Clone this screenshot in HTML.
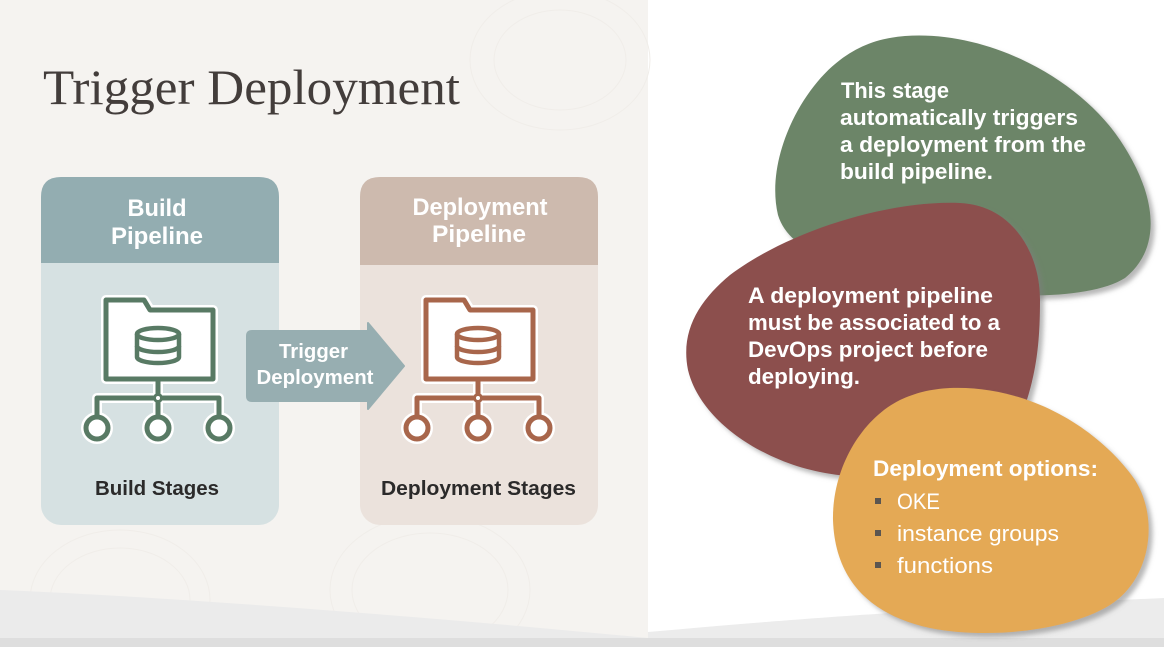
<!DOCTYPE html>
<html>
<head>
<meta charset="utf-8">
<style>
  html,body{margin:0;padding:0;background:#fff;}
  svg{display:block;}
  .b{font-family:"Liberation Sans",Arial,sans-serif;font-weight:bold;}
  .r{font-family:"Liberation Sans",Arial,sans-serif;font-weight:normal;}
  .s{font-family:"Liberation Serif","Times New Roman",serif;}
</style>
</head>
<body>
<svg width="1164" height="647" viewBox="0 0 1164 647" xmlns="http://www.w3.org/2000/svg">
  <defs>
    <filter id="sh" x="-10%" y="-10%" width="130%" height="130%">
      <feDropShadow dx="4" dy="4" stdDeviation="2.5" flood-color="#7d7d7d" flood-opacity="0.55"/>
    </filter>
  </defs>

  <!-- backgrounds -->
  <rect x="0" y="0" width="1164" height="647" fill="#ffffff"/>
  <rect x="0" y="0" width="648" height="647" fill="#f5f3f0"/>
  <g fill="none" stroke="#f0ede9" stroke-width="1">
    <ellipse cx="120" cy="600" rx="90" ry="70"/>
    <ellipse cx="120" cy="600" rx="70" ry="52"/>
    <ellipse cx="430" cy="590" rx="100" ry="75"/>
    <ellipse cx="430" cy="590" rx="78" ry="57"/>
    <ellipse cx="560" cy="60" rx="90" ry="70"/>
    <ellipse cx="560" cy="60" rx="66" ry="50"/>
  </g>
  <!-- bottom gray bands -->
  <path d="M0,590 C150,596 400,614 648,638 L648,647 L0,647 Z" fill="#ebebeb"/>
  <path d="M648,632 C760,622 900,610 1164,598 L1164,647 L648,647 Z" fill="#ececec"/>
  <rect x="0" y="638" width="1164" height="9" fill="#dedede"/>

  <!-- title -->
  <text class="s" x="43" y="104" font-size="50" fill="#433d3b" textLength="417" lengthAdjust="spacingAndGlyphs">Trigger Deployment</text>

  <!-- Build pipeline box -->
  <rect x="41" y="177" width="238" height="348" rx="20" ry="20" fill="#d6e1e2"/>
  <path d="M41,263 V197 Q41,177 61,177 H259 Q279,177 279,197 V263 Z" fill="#93adb1"/>
  <text class="b" x="157" y="216" font-size="24" fill="#ffffff" text-anchor="middle" textLength="59" lengthAdjust="spacingAndGlyphs">Build</text>
  <text class="b" x="157" y="244" font-size="24" fill="#ffffff" text-anchor="middle" textLength="92" lengthAdjust="spacingAndGlyphs">Pipeline</text>
  <text class="b" x="157" y="495" font-size="20.5" fill="#2b2a2a" text-anchor="middle" textLength="124" lengthAdjust="spacingAndGlyphs">Build Stages</text>

  <!-- Deployment pipeline box -->
  <rect x="360" y="177" width="238" height="348" rx="20" ry="20" fill="#ebe2dc"/>
  <path d="M360,265 V197 Q360,177 380,177 H578 Q598,177 598,197 V265 Z" fill="#cdbaae"/>
  <text class="b" x="480" y="215" font-size="24" fill="#ffffff" text-anchor="middle" textLength="135" lengthAdjust="spacingAndGlyphs">Deployment</text>
  <text class="b" x="479" y="242" font-size="24" fill="#ffffff" text-anchor="middle" textLength="94" lengthAdjust="spacingAndGlyphs">Pipeline</text>
  <text class="b" x="478.5" y="495" font-size="20.5" fill="#2b2a2a" text-anchor="middle" textLength="195" lengthAdjust="spacingAndGlyphs">Deployment Stages</text>

  <!-- Build icon -->
  <g fill="none" stroke-linejoin="round" stroke-linecap="round" stroke="#ffffff" stroke-width="10">
    <path d="M106,300 H144 L150,310 H213 V379 H106 Z" fill="#ffffff"/>
    <path d="M158,379 V417 M97,417 V398 H219 V417"/>
    <circle cx="97" cy="428" r="11" fill="#ffffff"/>
    <circle cx="158" cy="428" r="11" fill="#ffffff"/>
    <circle cx="219" cy="428" r="11" fill="#ffffff"/>
  </g>
  <g fill="none" stroke="#587a64" stroke-width="5" stroke-linejoin="round">
    <path d="M106,300 H144 L150,310 H213 V379 H106 Z" fill="#ffffff"/>
    <ellipse cx="158" cy="334" rx="21" ry="6" stroke-width="4.5"/>
    <path d="M137,334 V357 A21,6 0 0 0 179,357 V334" stroke-width="4.5"/>
    <path d="M137,346 A21,6 0 0 0 179,346" stroke-width="4.5"/>
    <path d="M158,379 V394"/>
    <path d="M97,417 V398 H154 M162,398 H219 V417 M158,402 V417"/>
    <circle cx="158" cy="398" r="3.5" fill="#ffffff" stroke-width="3"/>
    <circle cx="97" cy="428" r="11" fill="#ffffff"/>
    <circle cx="158" cy="428" r="11" fill="#ffffff"/>
    <circle cx="219" cy="428" r="11" fill="#ffffff"/>
  </g>

  <!-- Deployment icon -->
  <g transform="translate(320,0)">
    <g fill="none" stroke-linejoin="round" stroke-linecap="round" stroke="#ffffff" stroke-width="10">
      <path d="M106,300 H144 L150,310 H213 V379 H106 Z" fill="#ffffff"/>
      <path d="M158,379 V417 M97,417 V398 H219 V417"/>
      <circle cx="97" cy="428" r="11" fill="#ffffff"/>
      <circle cx="158" cy="428" r="11" fill="#ffffff"/>
      <circle cx="219" cy="428" r="11" fill="#ffffff"/>
    </g>
    <g fill="none" stroke="#a8664b" stroke-width="5" stroke-linejoin="round">
      <path d="M106,300 H144 L150,310 H213 V379 H106 Z" fill="#ffffff"/>
      <ellipse cx="158" cy="334" rx="21" ry="6" stroke-width="4.5"/>
      <path d="M137,334 V357 A21,6 0 0 0 179,357 V334" stroke-width="4.5"/>
      <path d="M137,346 A21,6 0 0 0 179,346" stroke-width="4.5"/>
      <path d="M158,379 V394"/>
      <path d="M97,417 V398 H154 M162,398 H219 V417 M158,402 V417"/>
      <circle cx="158" cy="398" r="3.5" fill="#ffffff" stroke-width="3"/>
      <circle cx="97" cy="428" r="11" fill="#ffffff"/>
      <circle cx="158" cy="428" r="11" fill="#ffffff"/>
      <circle cx="219" cy="428" r="11" fill="#ffffff"/>
    </g>
  </g>

  <!-- Trigger arrow -->
  <path d="M252,331 H368 V323 L404,366 L368,409 V401 H252 Q247,401 247,396 V336 Q247,331 252,331 Z" fill="#97aeb1" stroke="#97aeb1" stroke-width="2" stroke-linejoin="round"/>
  <text class="b" x="313.5" y="358" font-size="20" fill="#ffffff" text-anchor="middle" textLength="69" lengthAdjust="spacingAndGlyphs">Trigger</text>
  <text class="b" x="315" y="384" font-size="20" fill="#ffffff" text-anchor="middle" textLength="117" lengthAdjust="spacingAndGlyphs">Deployment</text>

  <!-- Green blob -->
  <path filter="url(#sh)" d="M905,36 C990,30 1080,80 1120,140 C1160,200 1160,250 1125,278 C1090,300 1000,300 930,285 C850,270 790,255 778,215 C765,160 800,90 840,60 C860,45 880,38 905,36 Z" fill="#6c8567"/>
  <text class="b" x="841" y="98" font-size="22.5" fill="#ffffff" textLength="108" lengthAdjust="spacingAndGlyphs">This stage</text>
  <text class="b" x="840" y="125" font-size="22.5" fill="#ffffff" textLength="238" lengthAdjust="spacingAndGlyphs">automatically triggers</text>
  <text class="b" x="840" y="152" font-size="22.5" fill="#ffffff" textLength="246" lengthAdjust="spacingAndGlyphs">a deployment from the</text>
  <text class="b" x="840" y="179" font-size="22.5" fill="#ffffff" textLength="153" lengthAdjust="spacingAndGlyphs">build pipeline.</text>

  <!-- Red blob -->
  <path filter="url(#sh)" d="M960,203 C1010,205 1040,250 1040,300 C1040,350 1035,380 1020,420 C980,470 880,485 820,472 C760,460 700,420 688,370 C680,330 700,300 730,275 C790,230 890,200 960,203 Z" fill="#8c4f4e"/>
  <text class="b" x="748" y="303" font-size="22.5" fill="#ffffff" textLength="245" lengthAdjust="spacingAndGlyphs">A deployment pipeline</text>
  <text class="b" x="748" y="330" font-size="22.5" fill="#ffffff" textLength="252" lengthAdjust="spacingAndGlyphs">must be associated to a</text>
  <text class="b" x="748" y="357" font-size="22.5" fill="#ffffff" textLength="240" lengthAdjust="spacingAndGlyphs">DevOps project before</text>
  <text class="b" x="748" y="384" font-size="22.5" fill="#ffffff" textLength="112" lengthAdjust="spacingAndGlyphs">deploying.</text>

  <!-- Orange blob -->
  <path filter="url(#sh)" d="M950,388 C1030,385 1100,430 1135,480 C1160,520 1150,580 1110,605 C1070,630 990,640 930,628 C870,615 835,580 833,520 C832,470 860,420 900,400 C915,393 930,389 950,388 Z" fill="#e4a955"/>
  <text class="b" x="873" y="476" font-size="22.5" fill="#ffffff" textLength="225" lengthAdjust="spacingAndGlyphs">Deployment options:</text>
  <rect x="875" y="498" width="6" height="6" fill="#5a5550"/>
  <text class="r" x="897" y="509" font-size="22.5" fill="#ffffff" textLength="43" lengthAdjust="spacingAndGlyphs">OKE</text>
  <rect x="875" y="530" width="6" height="6" fill="#5a5550"/>
  <text class="r" x="897" y="541" font-size="22.5" fill="#ffffff" textLength="162" lengthAdjust="spacingAndGlyphs">instance groups</text>
  <rect x="875" y="562" width="6" height="6" fill="#5a5550"/>
  <text class="r" x="897" y="573" font-size="22.5" fill="#ffffff" textLength="96" lengthAdjust="spacingAndGlyphs">functions</text>
</svg>
</body>
</html>
